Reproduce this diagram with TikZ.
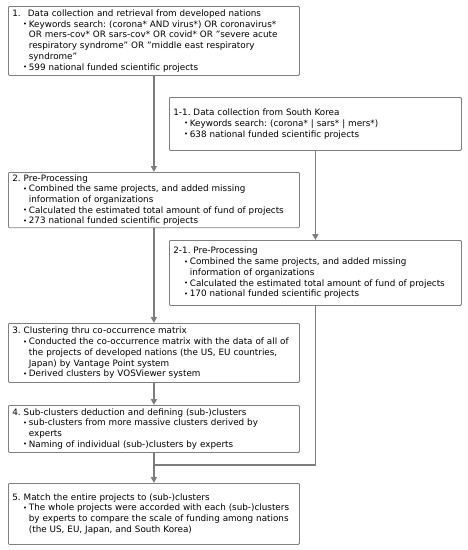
\documentclass[tikz,border=0pt]{standalone}
\usepackage{fontspec}
\setmainfont{DejaVu Sans}
\usetikzlibrary{arrows.meta}
\definecolor{boxgray}{RGB}{128,128,128}
\definecolor{linegray}{RGB}{125,125,125}
\newcommand{\bitem}[1]{\par\hangindent=16.5pt\hangafter=1\hspace*{10.8pt}\makebox[5.7pt][l]{\raisebox{0.4pt}{\fontsize{6.8}{7}\selectfont •}}#1\par}
\begin{document}
\begin{tikzpicture}[x=1pt,y=-1pt,
  box/.style={draw=boxgray, line width=0.8pt, rounded corners=1pt, fill=white,
    inner xsep=4pt, inner ysep=2pt, align=left, anchor=north west,
    font=\fontsize{8.8}{10.7}\selectfont\frenchspacing},
  conn/.style={draw=linegray, line width=1.8pt},
  arr/.style={conn, -{Triangle[width=6pt,length=6pt]}}]
\useasboundingbox (0,0) rectangle (468,550);
\node[box, text width=283pt, minimum height=69pt] (b1) at (8,6) {\makebox[15.5pt][l]{1.}Data collection and retrieval from developed nations
\bitem{Keywords search: (corona* AND virus*) OR coronavirus*\newline OR mers-cov* OR sars-cov* OR covid* OR "severe acute\newline respiratory syndrome" OR "middle east respiratory\newline syndrome"}
\bitem{599 national funded scientific projects}};
\node[box, text width=284pt, minimum height=53pt] (b11) at (169,97) {1-1. Data collection from South Korea
\bitem{Keywords search: (corona* | sars* | mers*)}
\bitem{638 national funded scientific projects}};
\node[box, text width=283pt, minimum height=54pt] (b2) at (8,172) {2. Pre-Processing
\bitem{Combined the same projects, and added missing\newline information of organizations}
\bitem{Calculated the estimated total amount of fund of projects}
\bitem{273 national funded scientific projects}};
\node[box, text width=284pt, minimum height=65pt] (b21) at (169,240) {2-1. Pre-Processing
\bitem{Combined the same projects, and added missing\newline information of organizations}
\bitem{Calculated the estimated total amount of fund of projects}
\bitem{170 national funded scientific projects}};
\node[box, text width=283pt, minimum height=59pt] (b3) at (8,323) {3. Clustering thru co-occurrence matrix
\bitem{Conducted the co-occurrence matrix with the data of all of\newline the projects of developed nations (the US, EU countries,\newline Japan) by Vantage Point system}
\bitem{Derived clusters by VOSViewer system}};
\node[box, text width=283pt, minimum height=47pt] (b4) at (8,405) {4. Sub-clusters deduction and defining (sub-)clusters
\bitem{sub-clusters from more massive clusters derived by\newline experts}
\bitem{Naming of individual (sub-)clusters by experts}};
\node[box, text width=283pt, minimum height=61pt] (b5) at (8,483) {5. Match the entire projects to (sub-)clusters
\bitem{The whole projects were accorded with each (sub-)clusters\newline by experts to compare the scale of funding among nations\newline (the US, EU, Japan, and South Korea)}};
\coordinate (join) at (b4.south |- 0,465);
\draw[arr] (b1.south) -- (b2.north);
\draw[arr] (b11.south) -- (b21.north);
\draw[arr] (b2.south) -- (b3.north);
\draw[arr] (b3.south) -- (b4.north);
\draw[arr] (b4.south) -- (b5.north);
\draw[conn] (b21.south) |- (join);
\end{tikzpicture}
\end{document}
